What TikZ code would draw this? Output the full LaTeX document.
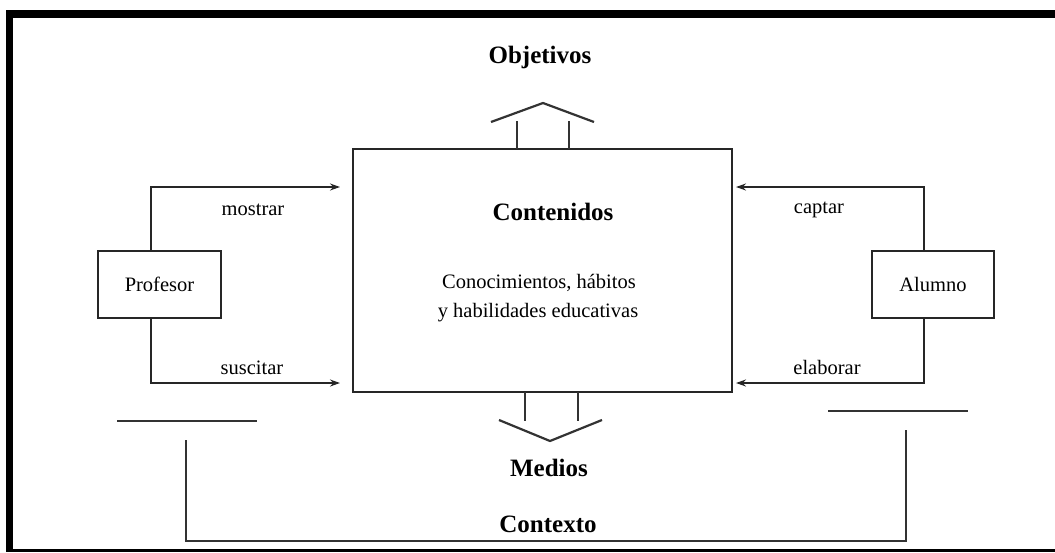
\documentclass[tikz,border=0pt]{standalone}
\usepackage{fontspec}
\setmainfont{Liberation Serif}
\usetikzlibrary{arrows.meta}
\begin{document}
\begin{tikzpicture}[x=1pt,y=-1pt,
  box/.style={draw=black!85, line width=2.2pt, inner sep=0pt},
  lbl/.style={font=\fontsize{20.5}{24}\selectfont, inner sep=0pt},
  ttl/.style={font=\bfseries\fontsize{25}{30}\selectfont, inner sep=0pt},
  conn/.style={draw=black!85, line width=2.2pt, -{Stealth[length=10pt,width=7pt]}},
  ln/.style={draw=black!80, line width=2.2pt}]
\useasboundingbox (0,0) rectangle (1055,552);
% outer frame
\fill[black] (6,10) rectangle (1055,18);
\fill[black] (6,10) rectangle (13,552);
\fill[black] (6,549) rectangle (1055,552);
% main box
\node[box, minimum width=379pt, minimum height=243pt] (cont) at (542.5,270.5) {};
\node[ttl] (contt) at (553,212) {Contenidos};
\node[lbl] (c1) at (539,283) {Conocimientos, hábitos};
\node[lbl] (c2) at (538,313) {y habilidades educativas};
% side boxes
\node[box, lbl, minimum width=123pt, minimum height=67pt] (prof) at (159.5,284.5) {Profesor};
\node[box, lbl, minimum width=122pt, minimum height=67pt] (alum) at (933,284.5) {Alumno};
\coordinate (pm) at (340,187);
\coordinate (ps) at (340,383);
\coordinate (ac) at (736,187);
\coordinate (ae) at (736,383);
\draw[conn] ([xshift=-8.5pt]prof.north) |- (pm);
\draw[conn] ([xshift=-8.5pt]prof.south) |- (ps);
\draw[conn] ([xshift=-9pt]alum.north) |- (ac);
\draw[conn] ([xshift=-9pt]alum.south) |- (ae);
\node[lbl] (lm) at (253,210) {mostrar};
\node[lbl] (ls) at (252,368) {suscitar};
\node[lbl] (lc) at (819,210) {captar};
\node[lbl] (le) at (827,367) {elaborar};
% up arrow (Objetivos)
\draw[ln] (517,149) -- (517,121);
\draw[ln] (569,149) -- (569,121);
\draw[ln] (491,122) -- (543,103) -- (594,122);
\node[ttl] (obj) at (540,57) {Objetivos};
% down arrow (Medios)
\draw[ln] (525,392) -- (525,421);
\draw[ln] (578,392) -- (578,421);
\draw[ln] (499,420) -- (550,441) -- (602,420);
\node[ttl] (med) at (549,468) {Medios};
% context
\draw[ln] (117,421) -- (257,421);
\draw[ln] (828,411) -- (968,411);
\draw[ln] (186,440) |- (906,541) -- (906,430);
\node[ttl] (ctx) at (548,524) {Contexto};
\end{tikzpicture}
\end{document}
